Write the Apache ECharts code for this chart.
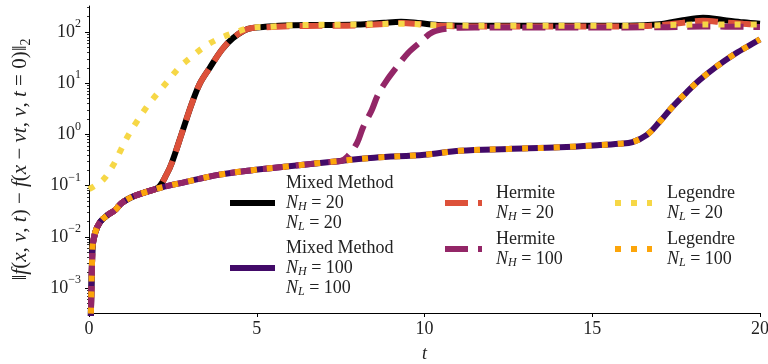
<!DOCTYPE html>
<html>
<head>
<meta charset="utf-8">
<script src="https://cdn.jsdelivr.net/npm/echarts@6/dist/echarts.min.js"></script>
<style>
  html, body { margin: 0; padding: 0; background: #fff; }
  #main { width: 768px; height: 364px; }
</style>
</head>
<body>
<div id="main"></div>
<script>
// tick labels
const xTicks = [0, 5, 10, 15, 20];
const yTicks = [1e-3, 1e-2, 1e-1, 1e0, 1e1, 1e2];

// Mixed Method N_H = N_L = 100 (also Legendre N_L = 100, same curve)
const tLow = [0, 0.1, 0.18, 0.33, 0.57, 0.77, 0.98, 1.28, 1.67, 2.18, 2.86, 3.85, 4.86, 5.75, 7.18, 8.5, 10, 11.06, 12.5, 14.04, 15.23, 15.8, 16.2, 16.63, 17.0, 17.4, 17.8, 18.2, 18.7, 19.2, 19.6, 20];
const vMixed100 = [1e-6, 0.0055, 0.0118, 0.0195, 0.027, 0.033, 0.046, 0.060, 0.074, 0.093, 0.117, 0.162, 0.20, 0.23, 0.29, 0.35, 0.40, 0.48, 0.52, 0.56, 0.62, 0.66, 0.71, 0.98, 1.74, 3.5, 6.5, 11.5, 21, 35.5, 51, 72];
const vLegendre100 = [1e-6, 0.0055, 0.0118, 0.0195, 0.027, 0.033, 0.046, 0.060, 0.074, 0.093, 0.117, 0.162, 0.20, 0.23, 0.29, 0.35, 0.40, 0.48, 0.52, 0.56, 0.62, 0.66, 0.71, 0.98, 1.74, 3.5, 6.5, 11.5, 21, 35.5, 51, 72];

// Mixed Method N = 20 and Hermite N_H = 20
const tHigh20 = [0, 0.1, 0.18, 0.33, 0.57, 0.77, 0.98, 1.28, 1.67, 2.06, 2.3, 2.47, 2.77, 3.07, 3.31, 3.6, 3.96, 4.29, 4.74, 5.25, 6, 7, 8, 8.8, 9.3, 9.8, 10.5, 12, 14, 16, 17, 17.7, 18.3, 18.9, 19.5, 20];
const vMixed20 = [1e-6, 0.0055, 0.0118, 0.0195, 0.027, 0.033, 0.046, 0.060, 0.074, 0.092, 0.16, 0.28, 1.07, 4.1, 10, 20, 45, 76, 115, 126, 135, 137, 140, 152, 158, 150, 136, 132, 132, 133, 142, 170, 190, 172, 155, 145];
const vHermite20 = [1e-6, 0.0055, 0.0118, 0.0195, 0.027, 0.033, 0.046, 0.060, 0.074, 0.092, 0.16, 0.28, 1.07, 4.1, 10, 20, 45, 76, 115, 124, 130, 132, 134, 144, 150, 144, 132, 128, 128, 129, 135, 152, 165, 155, 145, 138];

// Hermite N_H = 100
const tHermite100 = [0, 0.1, 0.18, 0.33, 0.57, 0.77, 0.98, 1.28, 1.67, 2.18, 2.86, 3.85, 4.86, 5.75, 7.18, 7.5, 7.69, 7.99, 8.17, 8.43, 8.61, 8.88, 9.18, 9.51, 9.87, 10.25, 10.76, 11.5, 13, 15, 17, 18.3, 20];
const vHermite100 = [1e-6, 0.0055, 0.0118, 0.0195, 0.027, 0.033, 0.046, 0.060, 0.074, 0.093, 0.117, 0.162, 0.20, 0.23, 0.29, 0.30, 0.36, 0.68, 1.38, 3.0, 5.9, 11.5, 21, 39, 63, 100, 118, 123, 123, 123, 124, 128, 125];

// Legendre N_L = 20
const tLegendre20 = [0, 0.42, 0.72, 0.95, 1.16, 1.43, 1.73, 2.03, 2.35, 2.68, 3.04, 3.43, 3.85, 4.32, 4.8, 5.34, 6, 8, 9.3, 10.5, 13, 16, 18.3, 20];
const vLegendre20 = [0.085, 0.13, 0.25, 0.5, 0.93, 1.8, 3.5, 6.2, 11, 20, 32, 51, 73, 96, 120, 126, 135, 140, 145, 135, 132, 132, 140, 140];

const legendLabels = {
  mixed20: 'Mixed Method\n{i|N}{s|H} = 20\n{i|N}{s|L} = 20',
  mixed100: 'Mixed Method\n{i|N}{s|H} = 100\n{i|N}{s|L} = 100',
  hermite20: 'Hermite\n{i|N}{s|H} = 20',
  hermite100: 'Hermite\n{i|N}{s|H} = 100',
  legendre20: 'Legendre\n{i|N}{s|L} = 20',
  legendre100: 'Legendre\n{i|N}{s|L} = 100'
};

const FONT = '"Liberation Serif", "DejaVu Serif", serif';
const TXT = '#222';

// minor ticks of the log axis: 2..9 times each decade
const yMinor = [];
for (let e = -4; e <= 2; e++) {
  for (let k = 2; k <= 9; k++) yMinor.push(k * Math.pow(10, e));
}

function pairs(ts, vs) {
  return ts.map((t, i) => [t, vs[i]]);
}

function line(name, ts, vs, color, dash) {
  return {
    name: name,
    type: 'line',
    data: pairs(ts, vs),
    symbol: 'none',
    smooth: 0.35,
    silent: true,
    lineStyle: { color: color, width: 6, type: dash, cap: 'butt' },
    itemStyle: { color: color }
  };
}

// itemHeight 1 keeps the legend's marker circle invisibly small
function legendAt(name, left, top, width, gap) {
  return {
    data: [name],
    left: left,
    top: top,
    padding: 0,
    orient: 'vertical',
    selectedMode: false,
    itemWidth: width,
    itemHeight: 1,
    lineStyle: { width: 6, cap: 'butt' },
    formatter: n => legendLabels[n],
    textStyle: {
      fontFamily: FONT, fontSize: 18, color: TXT, lineHeight: 20,
      padding: [0, 0, 0, gap],
      rich: {
        i: { fontFamily: FONT, fontSize: 18, fontStyle: 'italic', color: TXT, lineHeight: 20 },
        s: { fontFamily: FONT, fontSize: 12, fontStyle: 'italic', color: TXT, lineHeight: 12, verticalAlign: 'bottom' }
      }
    }
  };
}

function expLabel(v) {
  const e = Math.round(Math.log10(v));
  return '{b|10}{sup|' + (e < 0 ? '\u2212' + (-e) : e) + '}';
}

const chart = echarts.init(document.getElementById('main'));
chart.setOption({
  animation: false,
  backgroundColor: '#fff',
  grid: { left: 89, right: 8, top: 6, bottom: 51, containLabel: false, outerBoundsMode: 'none' },
  legend: [
    legendAt('mixed20', 227, 173, 45, 6),
    legendAt('mixed100', 227, 238, 45, 6),
    legendAt('hermite20', 442, 183, 37, 9),
    legendAt('hermite100', 442, 229, 37, 9),
    legendAt('legendre20', 612, 183, 37, 10),
    legendAt('legendre100', 612, 229, 37, 10)
  ],
  xAxis: {
    type: 'value',
    min: 0,
    max: 20,
    interval: 5,
    splitLine: { show: false },
    axisLine: { lineStyle: { color: '#000', width: 1 } },
    axisTick: { length: 4, lineStyle: { color: '#000', width: 1 } },
    axisLabel: {
      fontFamily: FONT, fontSize: 18, color: TXT, margin: 7,
      customValues: xTicks
    },
    name: 't',
    nameLocation: 'middle',
    nameGap: 32,
    nameTextStyle: { fontFamily: FONT, fontSize: 18, fontStyle: 'italic', color: TXT }
  },
  yAxis: [
    {
      type: 'log',
      position: 'left',
      min: 3.25e-4,
      max: 322,
      splitLine: { show: false },
      minorTick: { show: false },
      axisLine: { show: true, lineStyle: { color: '#000', width: 1 } },
      axisTick: { length: 4, lineStyle: { color: '#000', width: 1 }, customValues: yTicks },
      axisLabel: {
        margin: 8,
        customValues: yTicks,
        formatter: expLabel,
        fontFamily: FONT,
        rich: {
          b: { fontFamily: FONT, fontSize: 18, color: TXT, lineHeight: 28 },
          sup: { fontFamily: FONT, fontSize: 12, color: TXT, lineHeight: 12, verticalAlign: 'top' }
        }
      },
      name: '\u2016{i|f}({i|x}, {i|v}, {i|t}) \u2212 {i|f}({i|x} \u2212 {i|vt}, {i|v}, {i|t} = 0)\u2016{s|2}',
      nameLocation: 'middle',
      nameRotate: 90,
      nameGap: 56,
      nameTextStyle: {
        fontFamily: FONT, fontSize: 21, color: TXT, lineHeight: 26,
        rich: {
          i: { fontFamily: FONT, fontSize: 21, fontStyle: 'italic', color: TXT, lineHeight: 26 },
          s: { fontFamily: FONT, fontSize: 14, color: TXT, lineHeight: 14, verticalAlign: 'bottom' }
        }
      }
    },
    {
      type: 'log',
      position: 'left',
      min: 3.25e-4,
      max: 322,
      splitLine: { show: false },
      axisLine: { show: false },
      axisLabel: { show: false },
      axisTick: { show: true, length: 2, lineStyle: { color: '#000', width: 0.8 }, customValues: yMinor }
    }
  ],
  series: [
    line('mixed20', tHigh20, vMixed20, '#000000', 'solid'),
    line('mixed100', tLow, vMixed100, '#420a68', 'solid'),
    line('hermite20', tHigh20, vHermite20, '#dd513a', [23, 10]),
    line('hermite100', tHermite100, vHermite100, '#932667', [23, 10]),
    line('legendre20', tLegendre20, vLegendre20, '#f6d746', [6, 10]),
    line('legendre100', tLow, vLegendre100, '#fca50a', [6, 10])
  ]
});
</script>
</body>
</html>
